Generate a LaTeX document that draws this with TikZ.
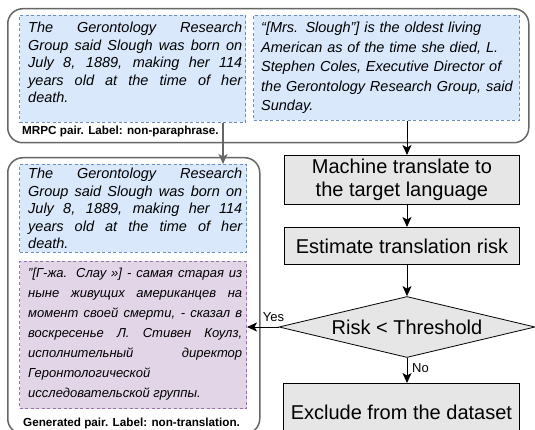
\documentclass[tikz,border=0pt]{standalone}
\usepackage{fontspec}
\setmainfont{Liberation Sans}
\usetikzlibrary{arrows.meta,shapes.geometric}
\definecolor{bluefill}{HTML}{DAE8FC}
\definecolor{bluedraw}{HTML}{6C8EBF}
\definecolor{purfill}{HTML}{E1D5E7}
\definecolor{purdraw}{HTML}{9673A6}
\definecolor{grayfill}{HTML}{E6E6E6}
\definecolor{outergray}{HTML}{666666}
\begin{document}
\begin{tikzpicture}[x=1pt,y=-1pt,
  outerbox/.style={draw=outergray, line width=1.5pt, rounded corners=15pt, fill=white, inner sep=0pt, anchor=north west},
  bluebox/.style={draw=bluedraw, fill=bluefill, dash pattern=on 3pt off 2.5pt, line width=1pt, inner sep=0pt, anchor=north west},
  purbox/.style={draw=purdraw, fill=purfill, dash pattern=on 3pt off 2.5pt, line width=1pt, inner sep=0pt, anchor=north west},
  para/.style={inner sep=0pt, anchor=base west, text width=214pt, align=justify},
  flowbox/.style={draw=black, fill=grayfill, line width=0.8pt, inner sep=0pt, align=center, anchor=north west, font=\fontsize{20}{23}\selectfont},
  capt/.style={font=\fontsize{11.7}{13}\selectfont\bfseries, inner sep=0pt, anchor=west},
  arr/.style={-{Stealth[length=10pt,width=9pt,inset=2.5pt]}, line width=0.9pt},
  garr/.style={-{Stealth[length=10pt,width=9pt,inset=2.5pt]}, draw=outergray, fill=outergray, line width=1.3pt},
  lbl/.style={font=\fontsize{13}{15}\selectfont, inner sep=0pt}
]
\useasboundingbox (0,0) rectangle (535,430);
\clip (0,0) rectangle (535,430);

% outer containers
\node[outerbox, minimum width=521pt, minimum height=134pt] (top) at (7,8) {};
\node[outerbox, minimum width=252pt, minimum height=276pt] (low) at (7,157) {};

% inner boxes
\node[bluebox, minimum width=226pt, minimum height=107pt] (b1) at (19,15) {};
\node[bluebox, minimum width=266pt, minimum height=105pt] (b2) at (253,15) {};
\node[bluebox, minimum width=227pt, minimum height=88pt] (lb) at (19,164) {};
\node[purbox, minimum width=227pt, minimum height=147pt] (pu) at (19,261) {};

% texts
\node[para, font=\fontsize{14.5}{17.5}\selectfont\itshape] (t1) at (28,33)
 {\tolerance=10000 The Gerontology Research\linebreak Group said Slough was born on\linebreak July 8, 1889, making her 114\linebreak years old at the time of her\linebreak death.};
\node[inner sep=0pt, anchor=base west, text width=262pt, align=left, font=\fontsize{14.5}{19.5}\selectfont\itshape] (t2) at (261,33)
 {“[Mrs. Slough”] is the oldest living\\ American as of the time she died, L.\\ Stephen Coles, Executive Director of\\ the Gerontology Research Group, said\\ Sunday.};
\node[para, font=\fontsize{14.5}{17.5}\selectfont\itshape] (t3) at (28,179)
 {\tolerance=10000 The Gerontology Research\linebreak Group said Slough was born on\linebreak July 8, 1889, making her 114\linebreak years old at the time of her\linebreak death.};
\node[para, font=\fontsize{13}{20}\selectfont\itshape] (t4) at (28,277)
 {\tolerance=10000 "[Г-жа. Слау »] - самая старая из\linebreak ныне живущих американцев на\linebreak момент своей смерти, - сказал в\linebreak воскресенье Л. Стивен Коулз,\linebreak исполнительный директор\linebreak Геронтологической\newline исследовательской группы.};

\node[capt] (c1) at (22,131) {MRPC pair. Label: non-paraphrase.};
\node[capt] (c2) at (23,423) {Generated pair. Label: non-translation.};

% flow
\node[flowbox, minimum width=235pt, minimum height=49pt] (mt) at (284,155) {Machine translate to\\the target language};
\node[flowbox, minimum width=235pt, minimum height=37pt] (es) at (284,227) {Estimate translation risk};
\node[diamond, draw=black, fill=grayfill, line width=0.8pt, inner sep=0pt, shape aspect=4.2, minimum width=256pt, minimum height=61pt, font=\fontsize{20}{23}\selectfont] (dia) at (407,327) {Risk < Threshold};
\node[flowbox, minimum width=236pt, minimum height=58pt] (ex) at (283,383) {Exclude from the dataset};

% connectors
\draw[garr] ([xshift=-23pt]b1.south east) -- ([xshift=-23pt]b1.south east |- lb.north);
\draw[arr] (b2.south -| dia.north) -- (mt.north -| dia.north);
\draw[arr] (mt.south -| dia.north) -- (es.north -| dia.north);
\draw[arr] (es.south -| dia.north) -- (dia.north);
\draw[arr] (dia.west) -- (dia.west -| pu.east);
\draw[arr] (dia.south) -- (dia.south |- ex.north);
\node[lbl, anchor=base west] (yes) at ([xshift=-16pt,yshift=6pt]dia.west) {Yes};
\node[lbl, anchor=west] (no) at ([xshift=5pt,yshift=-10pt]dia.south) {No};
\end{tikzpicture}
\end{document}
